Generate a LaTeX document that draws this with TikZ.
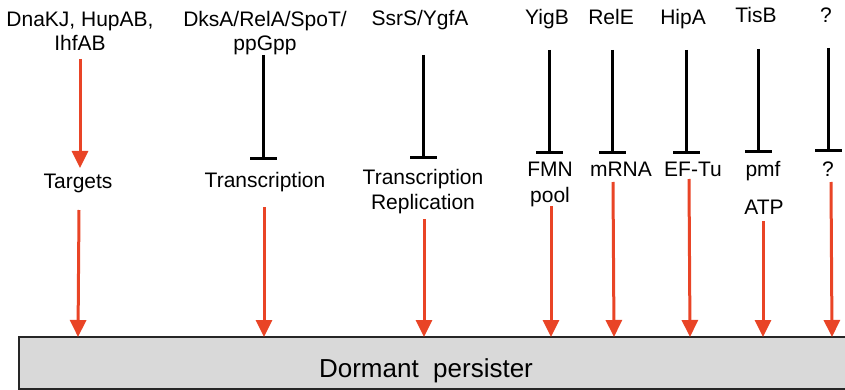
\documentclass[tikz,border=0pt]{standalone}
\usepackage{fontspec}
\setmainfont{Liberation Sans}
\usetikzlibrary{arrows.meta}
\definecolor{redarr}{RGB}{233,68,38}
\definecolor{boxgray}{RGB}{217,217,217}
\begin{document}
\begin{tikzpicture}[x=1pt,y=-1pt,
  lab/.style={inner sep=0pt, anchor=base, font=\fontsize{21}{25}\selectfont},
  inh/.style={line width=3pt, -{Bar[width=27pt, line width=3pt]}},
  act/.style={draw=redarr, line width=3pt, -{Triangle[length=17pt, width=16pt, fill=redarr]}, shorten >=0pt}]
\useasboundingbox (0,0) rectangle (845,390);

% bottom box
\path[draw=black!85, line width=1.6pt, fill=boxgray] (19,337) rectangle (870,389);
\node[lab, font=\fontsize{26}{30}\selectfont] (dorm) at (426,377) {Dormant\ \ persister};

% top labels
\node[lab] (dna1) at (80,27) {DnaKJ, HupAB,};
\node[lab] (dna2) at (80,51) {IhfAB};
\node[lab] (dks1) at (265,27) {DksA/RelA/SpoT/};
\node[lab] (dks2) at (265,51) {ppGpp};
\node[lab] (ssr) at (420,26) {SsrS/YgfA};
\node[lab] (yig) at (547,25) {YigB};
\node[lab] (rel) at (611,25) {RelE};
\node[lab] (hip) at (683,25) {HipA};
\node[lab] (tis) at (756,23) {TisB};
\node[lab] (qt) at (826,23) {?};

% middle labels
\node[lab] (tar) at (78,189) {Targets};
\node[lab] (tr1) at (265,187) {Transcription};
\node[lab] (tr2) at (423,185) {Transcription};
\node[lab] (rep) at (423,209) {Replication};
\node[lab] (fmn) at (550,177) {FMN};
\node[lab] (pool) at (550,202) {pool};
\node[lab] (mrna) at (621,177) {mRNA};
\node[lab] (eftu) at (693,177) {EF-Tu};
\node[lab] (pmf) at (763,176) {pmf};
\node[lab] (atp) at (764,214) {ATP};
\node[lab] (qm) at (828,176) {?};

% coordinates
\coordinate (a0s) at (80,59);  \coordinate (a0e) at (80,168);
\coordinate (i1s) at (263,55); \coordinate (i1e) at (263,160);
\coordinate (i2s) at (423,55); \coordinate (i2e) at (423,159);
\coordinate (i3s) at (549,50); \coordinate (i3e) at (549,154);
\coordinate (i4s) at (612,50); \coordinate (i4e) at (612,154);
\coordinate (i5s) at (686,50); \coordinate (i5e) at (686,154);
\coordinate (i6s) at (758,49); \coordinate (i6e) at (758,153);
\coordinate (i7s) at (828,48); \coordinate (i7e) at (828,152);

\coordinate (b1s) at (79,210);  \coordinate (b1e) at (78,337);
\coordinate (b2s) at (264,207); \coordinate (b2e) at (264,337);
\coordinate (b3s) at (424,219); \coordinate (b3e) at (424,337);
\coordinate (b4s) at (551,206); \coordinate (b4e) at (551,337);
\coordinate (b5s) at (613,182); \coordinate (b5e) at (614,337);
\coordinate (b6s) at (689,179); \coordinate (b6e) at (690,337);
\coordinate (b7s) at (763,221); \coordinate (b7e) at (763,337);
\coordinate (b8s) at (831,182); \coordinate (b8e) at (832,337);

% connectors
\draw[act] (a0s) -- (a0e);
\draw[inh] (i1s) -- (i1e);
\draw[inh] (i2s) -- (i2e);
\draw[inh] (i3s) -- (i3e);
\draw[inh] (i4s) -- (i4e);
\draw[inh] (i5s) -- (i5e);
\draw[inh] (i6s) -- (i6e);
\draw[inh] (i7s) -- (i7e);
\foreach \i in {1,...,8} \draw[act] (b\i s) -- (b\i e);
\end{tikzpicture}
\end{document}
